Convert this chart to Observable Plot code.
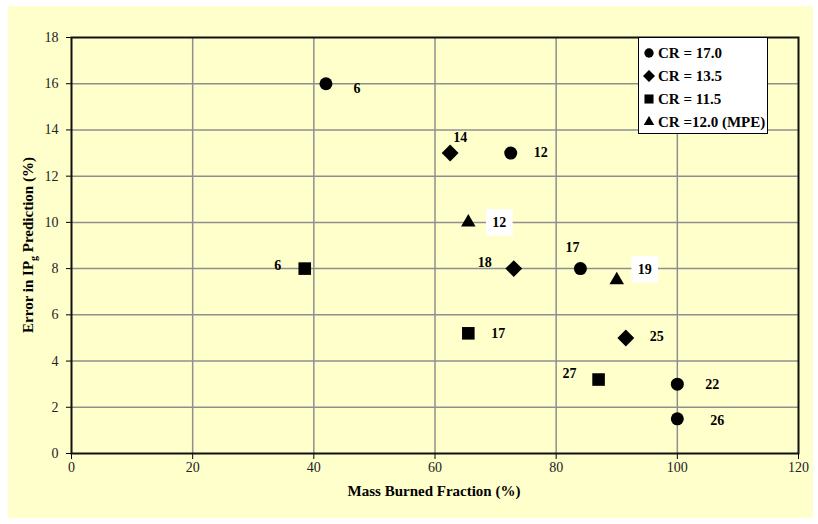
<!DOCTYPE html>
<html><head><meta charset="utf-8">
<script src="https://cdn.jsdelivr.net/npm/d3@7"></script>
<script src="https://cdn.jsdelivr.net/npm/@observablehq/plot@0.6"></script>
<style>
html,body{margin:0;padding:0;background:#fff;}
#wrap{position:relative;width:818px;height:524px;overflow:hidden;}
#bg{position:absolute;left:8px;top:6px;width:805px;height:512px;background:#FFFFCC;}
#chart{position:absolute;left:0;top:0;}
#legend{position:absolute;left:638px;top:37px;width:130px;height:97px;background:#fff;border:1px solid #000;box-sizing:border-box;font:bold 15px "Liberation Serif",serif;color:#000;}
.lrow{position:absolute;left:0;height:20px;display:flex;align-items:center;white-space:nowrap;}
.lrow svg{margin-left:4px;margin-right:3px;}
</style></head>
<body><div id="wrap"><div id="bg"></div><div id="chart"></div><div id="legend"></div></div>
<script>
// ---- data ----
const seriesNames = ["CR = 17.0", "CR = 13.5", "CR = 11.5", "CR =12.0 (MPE)"];
const pointSeries = [0, 1, 0, 3, 2, 1, 0, 3, 2, 1, 2, 0, 0];
const massBurned  = [42, 62.5, 72.5, 65.5, 38.5, 73, 84, 90, 65.5, 91.5, 87, 100, 100];
const errorIP     = [16, 13, 13, 10, 8, 8, 8, 7.5, 5.2, 5, 3.2, 3, 1.5];
const pointLabels = ["6", "14", "12", "12", "6", "18", "17", "19", "17", "25", "27", "22", "26"];
const xTicks = [0, 20, 40, 60, 80, 100, 120];
const yTicks = [0, 2, 4, 6, 8, 10, 12, 14, 16, 18];

// ---- styling ----
const symbols = ["circle", "diamond2", "square", "triangle"];
const symbolR = [6.5, 7.6, 7.1, 5.4];
const labelDx = [31, 10, 30, 31, -27, -29, -8, 28, 30, 31, -29, 35, 40];
const labelDy = [5, -16, -1, 0, -3, -6, -21, -11, 0, -1, -6, 0, 2];
const labelBoxed = [false, false, false, true, false, false, false, true, false, false, false, false, false];

const rows = massBurned.map((x, i) => ({x, y: errorIP[i], s: pointSeries[i], label: pointLabels[i], i}));

const marks = [
  Plot.gridX(xTicks.filter(d => d > 0 && d < 120), {stroke: "#8f8f8f", strokeOpacity: 1, strokeWidth: 1.5}),
  Plot.gridY(yTicks.filter(d => d > 0 && d < 18), {stroke: "#8f8f8f", strokeOpacity: 1, strokeWidth: 1.5}),
  Plot.axisX({ticks: xTicks, tickSize: 6, tickPadding: 3, label: null, stroke: "#000", fill: "#222"}),
  Plot.axisY({ticks: yTicks, tickSize: 5, tickPadding: 8, label: null, stroke: "#000", fill: "#222"}),
  Plot.frame({stroke: "#111", strokeWidth: 2})
];
symbols.forEach((sym, k) => {
  marks.push(Plot.dot(rows.filter(d => d.s === k), {x: "x", y: "y", symbol: () => sym, r: symbolR[k], fill: "#000", stroke: "none"}));
});
rows.forEach(d => {
  if (labelBoxed[d.i]) {
    marks.push(Plot.dot([d], {x: "x", y: "y", symbol: () => "square", r: 15, fill: "#fff", stroke: "none", dx: labelDx[d.i], dy: labelDy[d.i]}));
  }
  marks.push(Plot.text([d], {x: "x", y: "y", text: "label", dx: labelDx[d.i], dy: labelDy[d.i], fontWeight: "bold", fontSize: 14, fontFamily: "Liberation Serif", fill: "#000"}));
});

const chart = Plot.plot({
  width: 818, height: 524,
  marginLeft: 71, marginRight: 20, marginTop: 37, marginBottom: 71,
  x: {domain: [0, 120]},
  y: {domain: [0, 18]},
  symbol: {type: "identity"},
  style: {background: "transparent", fontFamily: "Liberation Serif", fontSize: "14px", color: "#000"},
  marks
});
document.getElementById("chart").appendChild(chart);

const svg = d3.select(chart);
const yt = svg.append("text")
  .attr("transform", "translate(33,245) rotate(-90)")
  .attr("text-anchor", "middle")
  .attr("font-family", "Liberation Serif").attr("font-weight", "bold").attr("font-size", 15).attr("fill", "#000");
yt.append("tspan").text("Error in IP");
yt.append("tspan").text("g").attr("font-size", 10).attr("dy", 4);
yt.append("tspan").text(" Prediction (%)").attr("dy", -4);
svg.append("text")
  .attr("x", 434).attr("y", 496)
  .attr("text-anchor", "middle")
  .attr("font-family", "Liberation Serif").attr("font-weight", "bold").attr("font-size", 15).attr("fill", "#000")
  .text("Mass Burned Fraction (%)");

// legend
const symbolTypes = {circle: d3.symbolCircle, diamond2: d3.symbolDiamond2, square: d3.symbolSquare, triangle: d3.symbolTriangle};
const leg = document.getElementById("legend");
const legTops = [5, 28, 51, 74];
seriesNames.forEach((name, k) => {
  const row = document.createElement("div");
  row.className = "lrow";
  row.style.top = legTops[k] + "px";
  const s = d3.create("svg").attr("width", 12).attr("height", 12);
  s.append("path").attr("transform", "translate(6,6)")
    .attr("d", d3.symbol(symbolTypes[symbols[k]], Math.PI * (symbolR[k] * 0.72) ** 2)())
    .attr("fill", "#000");
  row.appendChild(s.node());
  const t = document.createElement("span");
  t.textContent = name;
  row.appendChild(t);
  leg.appendChild(row);
});
</script>
</body></html>
